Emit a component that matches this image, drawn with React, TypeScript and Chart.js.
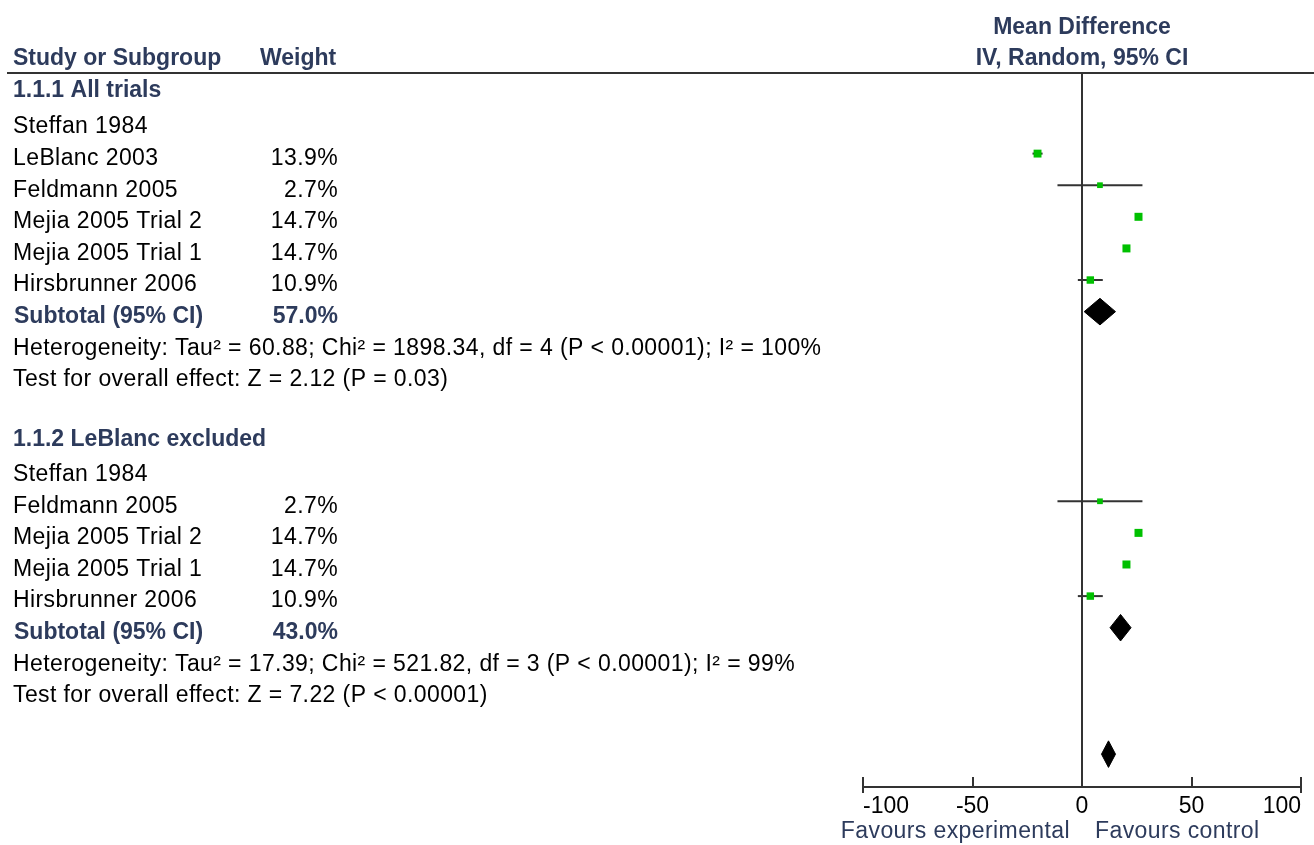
import { useEffect, useRef } from "react";
import { Chart, registerables } from "chart.js";

Chart.register(...registerables);

// ---------- data ----------
const group1Title = "1.1.1 All trials";
const group1Studies = ["Steffan 1984", "LeBlanc 2003", "Feldmann 2005", "Mejia 2005 Trial 2", "Mejia 2005 Trial 1", "Hirsbrunner 2006"];
const group1Weights = [null, 13.9, 2.7, 14.7, 14.7, 10.9];
const group1MD = [null, -20.3, 8.2, 25.8, 20.3, 3.8];
const group1Lo = [null, -22.6, -11.2, 24.9, 19.5, -1.9];
const group1Hi = [null, -18.0, 27.6, 26.7, 21.1, 9.5];
const group1Subtotal = [57.0, 8.2, 1.0, 15.3]; // weight, md, lo, hi
const group1Het = "Heterogeneity: Tau\u00B2 = 60.88; Chi\u00B2 = 1898.34, df = 4 (P < 0.00001); I\u00B2 = 100%";
const group1Test = "Test for overall effect: Z = 2.12 (P = 0.03)";

const group2Title = "1.1.2 LeBlanc excluded";
const group2Studies = ["Steffan 1984", "Feldmann 2005", "Mejia 2005 Trial 2", "Mejia 2005 Trial 1", "Hirsbrunner 2006"];
const group2Weights = [null, 2.7, 14.7, 14.7, 10.9];
const group2MD = [null, 8.2, 25.8, 20.3, 3.8];
const group2Lo = [null, -11.2, 24.9, 19.5, -1.9];
const group2Hi = [null, 27.6, 26.7, 21.1, 9.5];
const group2Subtotal = [43.0, 17.6, 12.8, 22.4];
const group2Het = "Heterogeneity: Tau\u00B2 = 17.39; Chi\u00B2 = 521.82, df = 3 (P < 0.00001); I\u00B2 = 99%";
const group2Test = "Test for overall effect: Z = 7.22 (P < 0.00001)";

const overallMD = [12.1, 8.9, 15.3]; // md, lo, hi

const xTickValues = [-100, -50, 0, 50, 100];
const favoursLeft = "Favours experimental";
const favoursRight = "Favours control";
const headerStudy = "Study or Subgroup";
const headerWeight = "Weight";
const headerEffect1 = "Mean Difference";
const headerEffect2 = "IV, Random, 95% CI";

// ---------- style ----------
const FONT = "'Liberation Sans', Arial, Helvetica, sans-serif";
const HEAD_COLOR = "#2d3b5c";
const LINE_COLOR = "#333333";
const GREEN = "#00c000";
const DIAMOND_H = 0.42;

type Group = {
  title: string; titleRow: number;
  studies: { name: string; w: number | null; md: number | null; lo: number | null; hi: number | null; row: number }[];
  sub: { w: number; md: number; lo: number; hi: number; row: number };
  het: string; hetRow: number; test: string; testRow: number;
};

function buildGroups(): { groups: Group[]; overallRow: number } {
  const g1: Group = {
    title: group1Title, titleRow: -1.15,
    studies: group1Studies.map((name, i) => ({ name, w: group1Weights[i], md: group1MD[i], lo: group1Lo[i], hi: group1Hi[i], row: i })),
    sub: { w: group1Subtotal[0], md: group1Subtotal[1], lo: group1Subtotal[2], hi: group1Subtotal[3], row: group1Studies.length },
    het: group1Het, hetRow: group1Studies.length + 1, test: group1Test, testRow: group1Studies.length + 2,
  };
  const s2 = g1.testRow + 3;
  const g2: Group = {
    title: group2Title, titleRow: s2 - 1.1,
    studies: group2Studies.map((name, i) => ({ name, w: group2Weights[i], md: group2MD[i], lo: group2Lo[i], hi: group2Hi[i], row: s2 + i })),
    sub: { w: group2Subtotal[0], md: group2Subtotal[1], lo: group2Subtotal[2], hi: group2Subtotal[3], row: s2 + group2Studies.length },
    het: group2Het, hetRow: s2 + group2Studies.length + 1, test: group2Test, testRow: s2 + group2Studies.length + 2,
  };
  return { groups: [g1, g2], overallRow: g2.testRow + 2 };
}

export default function App() {
  const ref = useRef<HTMLCanvasElement | null>(null);

  useEffect(() => {
    document.body.style.margin = "0";
    const canvas = ref.current;
    if (!canvas) return;
    const { groups, overallRow } = buildGroups();

    const datasets: any[] = [];
    const squares: any[] = [];
    const radii: number[] = [];
    groups.forEach((g) => {
      g.studies.forEach((s) => {
        if (s.md == null || s.lo == null || s.hi == null || s.w == null) return;
        datasets.push({
          data: [{ x: s.lo, y: s.row }, { x: s.hi, y: s.row }],
          showLine: true, borderColor: LINE_COLOR, borderWidth: 2, pointRadius: 0, order: 2,
        });
        squares.push({ x: s.md, y: s.row });
        const side = 4 + 4 * Math.sqrt(s.w / 14.7);
        radii.push(side / Math.SQRT2);
      });
    });
    datasets.push({
      data: squares, pointStyle: "rect", pointRadius: radii, pointHoverRadius: radii,
      backgroundColor: GREEN, borderWidth: 0, showLine: false, order: 0,
    });
    const diamond = (md: number, lo: number, hi: number, row: number) => ({
      data: [
        { x: lo, y: row }, { x: md, y: row - DIAMOND_H }, { x: hi, y: row },
        { x: md, y: row + DIAMOND_H }, { x: lo, y: row },
      ],
      showLine: true, fill: "shape", backgroundColor: "#000", borderColor: "#000",
      borderWidth: 1, pointRadius: 0, tension: 0, order: 0,
    });
    groups.forEach((g) => datasets.push(diamond(g.sub.md, g.sub.lo, g.sub.hi, g.sub.row)));
    datasets.push(diamond(overallMD[0], overallMD[1], overallMD[2], overallRow));

    const textPlugin = {
      id: "forestText",
      afterDraw(chart: any) {
        const { ctx, chartArea } = chart;
        const xs = chart.scales.x;
        const ys = chart.scales.y;
        const reg = `23px ${FONT}`;
        const bold = `bold 23px ${FONT}`;
        const put = (t: string, px: number, py: number, font: string, color: string, align: CanvasTextAlign = "left", spacing = "0px") => {
          ctx.font = font; ctx.fillStyle = color; ctx.textAlign = align; ctx.textBaseline = "middle";
          (ctx as any).letterSpacing = spacing;
          ctx.fillText(t, px, py);
          (ctx as any).letterSpacing = "0px";
        };
        const SP = "0.4px";
        const rowY = (r: number) => ys.getPixelForValue(r) + 5;
        const zeroX = xs.getPixelForValue(0);
        ctx.save();
        // header
        put(headerStudy, 13, 59, bold, HEAD_COLOR);
        put(headerWeight, 260, 59, bold, HEAD_COLOR);
        put(headerEffect1, zeroX, 28, bold, HEAD_COLOR, "center");
        put(headerEffect2, zeroX, 59, bold, HEAD_COLOR, "center");
        ctx.strokeStyle = LINE_COLOR; ctx.lineWidth = 2;
        ctx.beginPath(); ctx.moveTo(7, chartArea.top); ctx.lineTo(chart.width, chartArea.top); ctx.stroke();
        // groups
        groups.forEach((g) => {
          put(g.title, 13, rowY(g.titleRow), bold, HEAD_COLOR);
          g.studies.forEach((s) => {
            put(s.name, 13, rowY(s.row), reg, "#000", "left", SP);
            if (s.w != null) put(s.w.toFixed(1) + "%", 338, rowY(s.row), reg, "#000", "right", SP);
          });
          put("Subtotal (95% CI)", 14, rowY(g.sub.row), bold, HEAD_COLOR);
          put(g.sub.w.toFixed(1) + "%", 338, rowY(g.sub.row), bold, HEAD_COLOR, "right");
          put(g.het, 13, rowY(g.hetRow), reg, "#000", "left", SP);
          put(g.test, 13, rowY(g.testRow), reg, "#000", "left", SP);
        });
        // upward tick marks
        ctx.strokeStyle = LINE_COLOR; ctx.lineWidth = 2;
        const n = xs.ticks.length;
        xs.ticks.forEach((t: any, i: number) => {
          const px = Math.round(xs.getPixelForValue(t.value));
          const ext = i === 0 || i === n - 1 ? 6 : 0;
          ctx.beginPath(); ctx.moveTo(px, chartArea.bottom - 10); ctx.lineTo(px, chartArea.bottom + ext); ctx.stroke();
        });
        // favours labels
        put(favoursLeft, zeroX - 12, 832, reg, HEAD_COLOR, "right", SP);
        put(favoursRight, zeroX + 13, 832, reg, HEAD_COLOR, "left", SP);
        ctx.restore();
      },
    };

    const chart = new Chart(canvas, {
      type: "scatter",
      data: { datasets },
      options: {
        responsive: false,
        animation: false,
        events: [],
        layout: { padding: { left: 863, right: 13, top: 73, bottom: 0 } },
        plugins: { legend: { display: false }, tooltip: { enabled: false } },
        scales: {
          x: {
            type: "linear", min: -100, max: 100,
            afterBuildTicks: (scale: any) => { scale.ticks = xTickValues.map((v) => ({ value: v })); },
            afterFit: (scale: any) => { scale.height = 58; },
            grid: {
              display: true, drawTicks: false, drawOnChartArea: true,
              color: (c: any) => (c.tick && c.tick.value === 0 ? LINE_COLOR : "rgba(0,0,0,0)"),
              lineWidth: 2,
            },
            border: { display: true, color: LINE_COLOR, width: 2 },
            ticks: { align: "inner", padding: 6, color: "#000", font: { family: FONT, size: 23 } },
          },
          y: { type: "linear", reverse: true, min: -1.55, max: 21.04, display: false },
        },
      },
      plugins: [textPlugin],
    } as any);
    return () => chart.destroy();
  }, []);

  return (
    <div style={{ position: "absolute", left: 0, top: 0, width: 1314, height: 845, background: "#fff" }}>
      <canvas ref={ref} width={1314} height={845} />
    </div>
  );
}
